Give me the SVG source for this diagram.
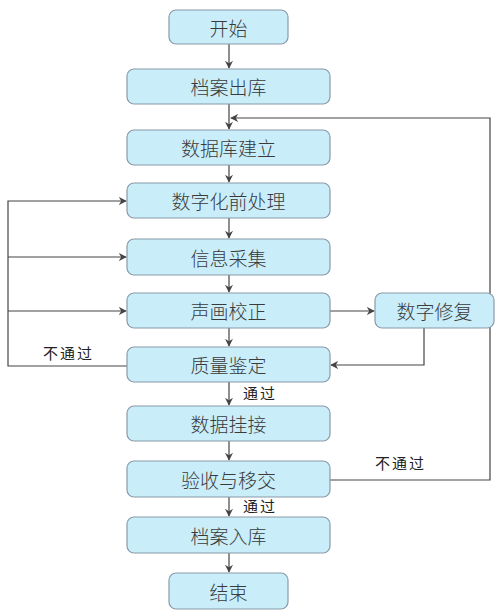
<svg xmlns="http://www.w3.org/2000/svg" width="500" height="612" viewBox="0 0 500 612">
<style>
.n rect{fill:#c9eefa;stroke:#8a9aa8;stroke-width:1.2}
.n text{font-family:"Noto Sans CJK SC",sans-serif;font-size:19px;font-weight:300;fill:#3a3a3a;text-anchor:middle;dominant-baseline:central}
.c path{fill:none;stroke:#444;stroke-width:1.2}
.lb{font-family:"Noto Sans CJK SC",sans-serif;font-size:15px;fill:#222;letter-spacing:2px}
</style>
<defs>
<marker id="a" viewBox="0 0 10 10" refX="9" refY="5" markerWidth="8" markerHeight="8" markerUnits="userSpaceOnUse" orient="auto">
<path d="M0,0 L10,5 L0,10 L3,5 Z" fill="#444"/>
</marker>
</defs>
<rect width="500" height="612" fill="#fff"/>
<g class="c">
<path d="M229,44 V68" marker-end="url(#a)"/>
<path d="M229,104 V129" marker-end="url(#a)"/>
<path d="M229,165 V182" marker-end="url(#a)"/>
<path d="M229,218 V238" marker-end="url(#a)"/>
<path d="M229,275 V292" marker-end="url(#a)"/>
<path d="M229,328 V346" marker-end="url(#a)"/>
<path d="M229,382 V405" marker-end="url(#a)"/>
<path d="M229,441 V460" marker-end="url(#a)"/>
<path d="M229,497 V516" marker-end="url(#a)"/>
<path d="M229,553 V572" marker-end="url(#a)"/>
<path d="M330,311 H374" marker-end="url(#a)"/>
<path d="M424,328 V365 H331" marker-end="url(#a)"/>
<path d="M127,366 H8 V201 H126" marker-end="url(#a)"/>
<path d="M8,257 H126" marker-end="url(#a)"/>
<path d="M8,311 H126" marker-end="url(#a)"/>
<path d="M330,480 H490 V118 H231" marker-end="url(#a)"/>
</g>
<g id="start" class="n"><rect x="169" y="10" width="119" height="34" rx="7"/><text x="228.5" y="27">开始</text></g>
<g id="chuku" class="n"><rect x="127" y="69" width="203" height="35" rx="7"/><text x="228.5" y="86.5">档案出库</text></g>
<g id="jianli" class="n"><rect x="127" y="130" width="203" height="35" rx="7"/><text x="228.5" y="147.5">数据库建立</text></g>
<g id="qianchuli" class="n"><rect x="127" y="183" width="203" height="35" rx="7"/><text x="228.5" y="200.5">数字化前处理</text></g>
<g id="caiji" class="n"><rect x="127" y="239" width="203" height="36" rx="7"/><text x="228.5" y="257">信息采集</text></g>
<g id="jiaozheng" class="n"><rect x="127" y="293" width="203" height="35" rx="7"/><text x="228.5" y="310.5">声画校正</text></g>
<g id="xiufu" class="n"><rect x="375" y="293" width="119" height="35" rx="7"/><text x="434.5" y="310.5">数字修复</text></g>
<g id="jianding" class="n"><rect x="127" y="347" width="203" height="35" rx="7"/><text x="228.5" y="364.5">质量鉴定</text></g>
<g id="guajie" class="n"><rect x="127" y="406" width="203" height="35" rx="7"/><text x="228.5" y="423.5">数据挂接</text></g>
<g id="yanshou" class="n"><rect x="127" y="461" width="203" height="36" rx="7"/><text x="228.5" y="479">验收与移交</text></g>
<g id="ruku" class="n"><rect x="127" y="517" width="203" height="36" rx="7"/><text x="228.5" y="535">档案入库</text></g>
<g id="end" class="n"><rect x="169" y="573" width="119" height="36" rx="7"/><text x="228.5" y="591">结束</text></g>
<g id="labels">
<text class="lb" x="43" y="359">不通过</text>
<text class="lb" x="243" y="399">通过</text>
<text class="lb" x="375" y="469">不通过</text>
<text class="lb" x="243" y="512">通过</text>
</g>
</svg>
